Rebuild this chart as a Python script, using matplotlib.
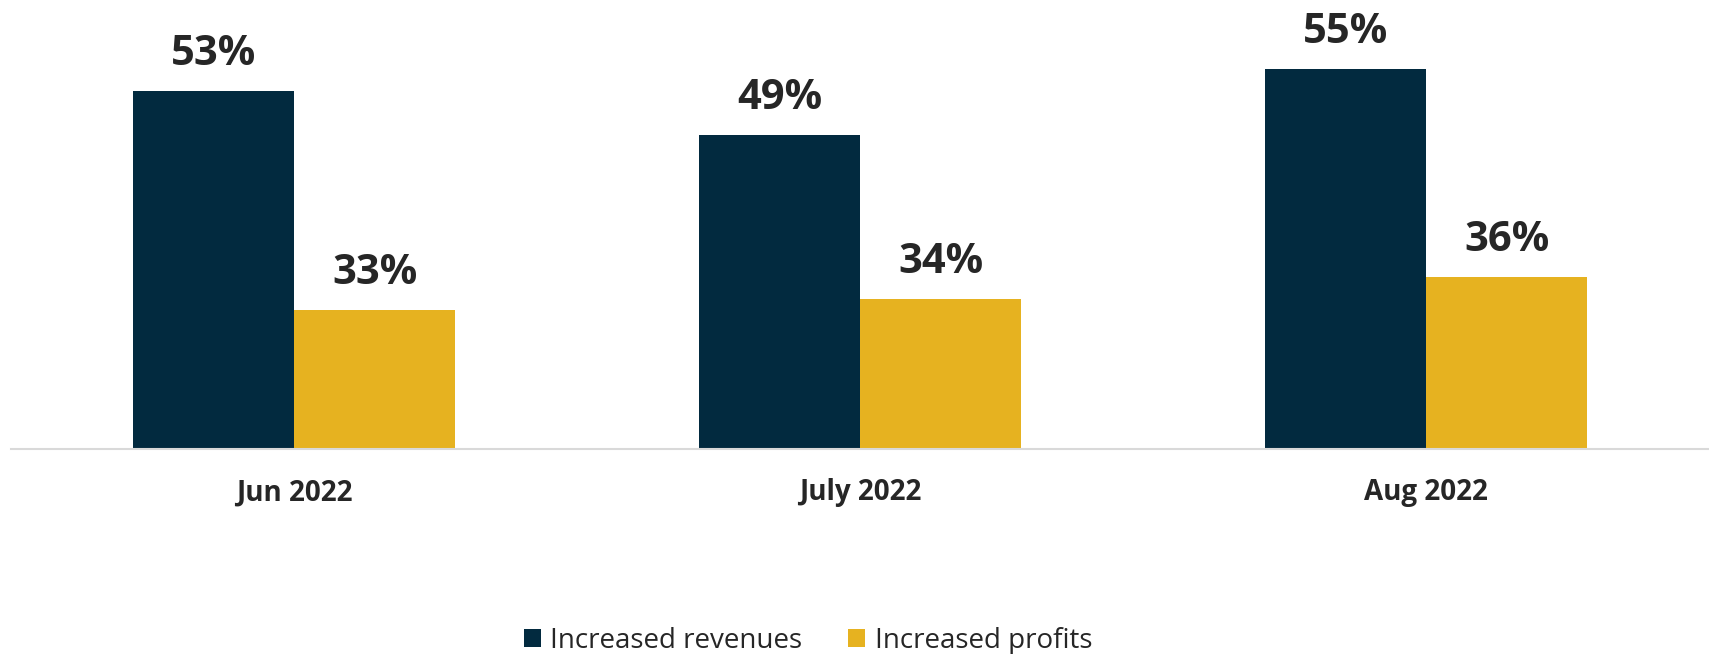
import numpy as np
import matplotlib
matplotlib.use("Agg")
import matplotlib.pyplot as plt

# data
months = ["Jun 2022", "July 2022", "Aug 2022"]
revenues = [53, 49, 55]
profits = [33, 34, 36]
series_names = ["Increased revenues", "Increased profits"]

NAVY = "#022a3f"
GOLD = "#e6b220"
TEXT = "#262626"

plt.rcParams['font.family'] = ['Open Sans', 'DejaVu Sans']

fig = plt.figure(figsize=(17.09, 6.54), dpi=100)
ax = fig.add_axes([11 / 1709, 1 - 449 / 654, 1698 / 1709, 449 / 654])

x = np.arange(len(months))
w = 0.285
b1 = ax.bar(x - w / 2, revenues, w, color=NAVY, label=series_names[0])
b2 = ax.bar(x + w / 2, profits, w, color=GOLD, label=series_names[1])

# value labels above each bar
for bars, vals in ((b1, revenues), (b2, profits)):
    for rect, v in zip(bars, vals):
        ax.annotate(f"{v}%", (rect.get_x() + rect.get_width() / 2, v),
                    xytext=(0, 26), textcoords="offset pixels",
                    ha="center", va="baseline", fontsize=30, fontweight="bold", color=TEXT)

ax.set_xlim(-0.5, 2.5)
ax.set_ylim(20.3, 61.3)
ax.set_xticks(x)
ax.set_xticklabels(months, fontsize=20, fontweight="bold", color=TEXT)
ax.tick_params(axis="x", length=0, pad=21)
ax.set_yticks([])
for s in ("top", "right", "left"):
    ax.spines[s].set_visible(False)
ax.spines["bottom"].set_color("#d9d9d9")
ax.spines["bottom"].set_linewidth(1.5)

fig.legend(handles=[b1, b2], labels=series_names, loc="center",
           bbox_to_anchor=(808 / 1709, 1 - 641 / 654), ncol=2, frameon=False,
           fontsize=20, handlelength=0.6, handleheight=0.6, handletextpad=0.35,
           columnspacing=1.65, labelcolor=TEXT)

fig.savefig("out.png", dpi=100)
